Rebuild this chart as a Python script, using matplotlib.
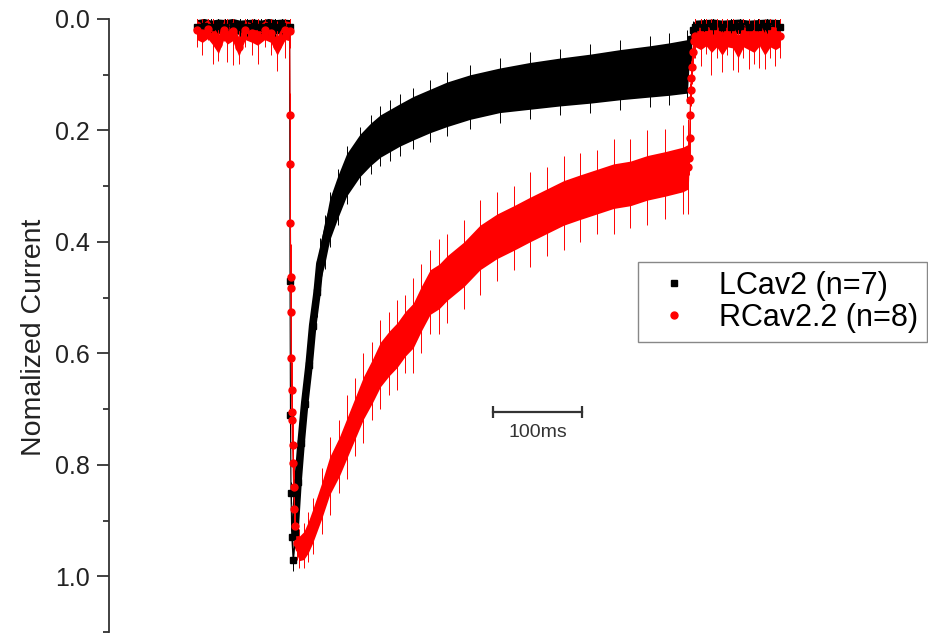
import matplotlib.pyplot as plt
from matplotlib.lines import Line2D
from matplotlib.ticker import MultipleLocator

plt.rcParams['font.family'] = ['Liberation Sans', 'DejaVu Sans']

# time axis in ms (0 = start of the shown sweep), values = normalized current
# LCav2 (n=7)
lcav_t = [0, 8, 16, 24, 32, 40, 48, 56, 64, 72, 80, 88, 96, 104,
          104.5, 105, 105.6, 106.5, 108,
          110, 113.5, 117, 121, 126, 130, 135, 138, 144, 149, 158, 168, 183,
          195, 206, 217, 228, 243, 262, 281, 307, 340, 374, 408, 442, 475,
          509, 530, 551,
          553, 555, 557, 560, 570, 580, 590, 600, 610, 620, 630, 640, 655]
lcav_mean = [0.014, 0.012, 0.015, 0.013, 0.014, 0.012, 0.015, 0.014, 0.013, 0.015, 0.012, 0.014, 0.013, 0.014,
             0.47, 0.71, 0.85, 0.93, 0.97,
             0.92, 0.83, 0.76, 0.69, 0.62, 0.55, 0.49, 0.44, 0.40, 0.36, 0.32, 0.28, 0.245,
             0.225, 0.21, 0.20, 0.19, 0.178, 0.165, 0.153, 0.14, 0.128, 0.12, 0.113, 0.107, 0.10,
             0.094, 0.09, 0.085,
             0.06, 0.035, 0.02, 0.015, 0.014, 0.013, 0.015, 0.014, 0.013, 0.015, 0.014, 0.013, 0.014]
lcav_band = [0.013] * 14 + [0.01] * 5 + \
            [0.02, 0.022, 0.025, 0.028, 0.03, 0.032, 0.034, 0.035, 0.036, 0.037, 0.038, 0.038, 0.038,
             0.038, 0.038, 0.038, 0.038, 0.039, 0.039, 0.04, 0.04, 0.04, 0.042, 0.043, 0.044, 0.045,
             0.046, 0.047, 0.048] + [0.02, 0.015, 0.013] + [0.013] * 10
lcav_err = [0.016] * 14 + [0.02] * 5 + \
           [0.03, 0.032, 0.035, 0.038, 0.04, 0.042, 0.045, 0.047, 0.048, 0.05, 0.05, 0.052, 0.052,
            0.053, 0.053, 0.054, 0.055, 0.055, 0.056, 0.057, 0.058, 0.058, 0.06, 0.06, 0.062, 0.063,
            0.064, 0.065, 0.066] + [0.025, 0.02, 0.016] + [0.016] * 10

# RCav2.2 (n=8)
rcav_t = [0, 6, 12, 18, 24, 30, 34, 40, 47, 54, 62, 68, 76, 83, 90, 99, 104,
          104.6, 104.8, 105.0, 105.2, 105.4, 105.6, 105.9, 106.2, 106.5, 106.8, 107.3, 107.9,
          108.6, 109.5, 110.5,
          112, 115, 120, 125, 130, 140, 149, 160, 169, 178, 187, 197, 206, 216, 225, 234, 243,
          252, 262, 272, 281, 300, 318, 337, 356, 374, 393, 412, 430, 449, 468, 487, 506, 526,
          546, 552,
          553, 553.5, 554, 554.5, 555, 555.5, 556, 557, 558,
          560, 566, 572, 578, 584, 590, 596, 602, 608, 614, 620, 626, 632, 638, 644, 650, 655]
rcav_mean = [0.02, 0.025, 0.018, 0.03, 0.045, 0.02, 0.028, 0.022, 0.05, 0.02, 0.025, 0.03, 0.02, 0.025,
             0.048, 0.02, 0.022,
             0.172, 0.26, 0.366, 0.463, 0.482, 0.526, 0.608, 0.665, 0.705, 0.72, 0.764, 0.797,
             0.84, 0.88, 0.91,
             0.94, 0.95, 0.945, 0.93, 0.91, 0.865, 0.82, 0.785, 0.75, 0.715, 0.68, 0.65, 0.62,
             0.60, 0.585, 0.565, 0.55, 0.52, 0.49, 0.48, 0.465, 0.44, 0.41, 0.39, 0.375, 0.36,
             0.345, 0.33, 0.32, 0.31, 0.30, 0.295, 0.285, 0.278, 0.27, 0.265,
             0.25, 0.214, 0.172, 0.145, 0.127, 0.106, 0.086, 0.06, 0.04,
             0.03, 0.035, 0.028, 0.04, 0.03, 0.045, 0.03, 0.032, 0.05, 0.03, 0.035, 0.04, 0.028,
             0.045, 0.03, 0.035, 0.03]
rcav_band = [0.017] * 17 + [0.006] * 15 + \
            [0.02, 0.022, 0.025, 0.028, 0.03, 0.032, 0.034, 0.035, 0.036, 0.037, 0.038, 0.039, 0.04,
             0.04, 0.04, 0.04, 0.04, 0.04, 0.04, 0.04, 0.04, 0.04, 0.04, 0.04, 0.04, 0.04, 0.04,
             0.04, 0.04, 0.04, 0.04, 0.04, 0.04, 0.04, 0.04, 0.04] + [0.01] * 9 + [0.02] * 17
rcav_err = [0.03, 0.04, 0.02, 0.05, 0.03, 0.02, 0.05, 0.06, 0.03, 0.03, 0.04, 0.05, 0.03, 0.04,
            0.045, 0.05, 0.03] + \
           [0.04, 0.05, 0.06, 0.06, 0.05, 0.06, 0.05, 0.05, 0.05, 0.05, 0.04, 0.04, 0.04, 0.03, 0.03] + \
           [0.03, 0.035, 0.04, 0.045, 0.05, 0.06, 0.07, 0.065, 0.075, 0.07, 0.08, 0.07, 0.08,
            0.075, 0.08, 0.07, 0.085, 0.08, 0.075, 0.085, 0.08, 0.08, 0.085, 0.08, 0.075, 0.085,
            0.08, 0.085, 0.08, 0.075, 0.085, 0.08, 0.085, 0.08, 0.08, 0.085] + \
           [0.03, 0.03, 0.03, 0.03, 0.03, 0.03, 0.03, 0.03, 0.03] + \
           [0.04, 0.05, 0.035, 0.06, 0.04, 0.05, 0.035, 0.06, 0.045, 0.04, 0.055, 0.04, 0.06,
            0.045, 0.04, 0.05, 0.04]

series_labels = ['LCav2 (n=7)', 'RCav2.2 (n=8)']
scale_bar_ms = 100


def draw_trace(ax, t, mean, band, err, color, marker, ms, lw):
    lo = [m - b for m, b in zip(mean, band)]
    hi = [m + b for m, b in zip(mean, band)]
    ax.fill_between(t, lo, hi, color=color, linewidth=0)
    # thin connecting line everywhere, thick only where the recorded band is wide
    ax.plot(t, mean, color=color, lw=0.8)
    thick = [m if b >= 0.02 else float('nan') for m, b in zip(mean, band)]
    ax.plot(t, thick, color=color, lw=lw, solid_capstyle='butt', solid_joinstyle='round')
    ax.errorbar(t, mean, yerr=err, fmt=marker, color=color, ms=ms,
                ecolor=color, elinewidth=0.7, capsize=0)


fig = plt.figure(figsize=(9.29, 6.36), dpi=100)
ax = fig.add_axes([109 / 929, 4 / 636, 820 / 929, 613 / 636])

draw_trace(ax, lcav_t, lcav_mean, lcav_band, lcav_err, 'black', 's', 4.5, 5.5)
draw_trace(ax, rcav_t, rcav_mean, rcav_band, rcav_err, '#ff0000', 'o', 5, 4.5)

# scale bar
ax.plot([333, 333 + scale_bar_ms], [0.706, 0.706], color='#333333', lw=1.6,
        marker='|', ms=9, mew=1.6)
ax.text(333 + scale_bar_ms / 2, 0.742, f'{scale_bar_ms}ms', ha='center', va='center',
        fontsize=14, color='#333333')

ax.set_xlim(-98.9, 822.5)
ax.set_ylim(1.1, 0.0)

for s in ['top', 'right', 'bottom']:
    ax.spines[s].set_visible(False)
ax.spines['left'].set_linewidth(1.3)
ax.spines['left'].set_color('#333333')
ax.set_xticks([])
ax.yaxis.set_major_locator(MultipleLocator(0.2))
ax.yaxis.set_minor_locator(MultipleLocator(0.1))
ax.tick_params(axis='y', which='major', length=8.5, width=1.3, direction='out',
               labelsize=18, pad=5, color='#333333', labelcolor='#222222')
ax.tick_params(axis='y', which='minor', length=4, width=1.3, direction='out', color='#333333')

ax.set_ylabel('Nomalized Current', fontsize=20.5, color='#222222')
ax.yaxis.set_label_coords(-0.076, 0.48)

handles = [Line2D([], [], ls='none', marker='s', color='black', ms=4.5),
           Line2D([], [], ls='none', marker='o', color='#ff0000', ms=5)]
leg = ax.legend(handles, series_labels, loc='upper left', bbox_to_anchor=(0.645, 0.6036),
                borderaxespad=0, fontsize=22, frameon=True, fancybox=False, framealpha=1,
                edgecolor='#888888', handlelength=1.75, handletextpad=0.6,
                labelspacing=0.05, borderpad=0.3)
leg.get_frame().set_linewidth(1.0)

fig.savefig('out.png', dpi=100)
